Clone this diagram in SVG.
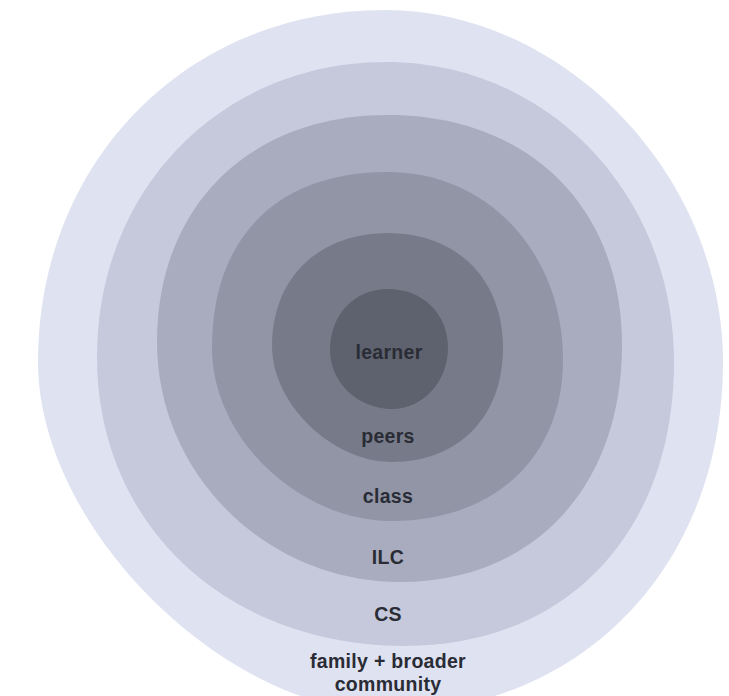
<svg xmlns="http://www.w3.org/2000/svg" width="729" height="696" viewBox="0 0 729 696">
  <style>
    .lbl { font-family: "Liberation Sans", Arial, sans-serif; font-weight: 700; font-size: 19.5px; letter-spacing: 0.3px; fill: #2a2c35; text-anchor: middle; }
    .r0 { fill: #dfe2f1; }
    .r1 { fill: #c5c9db; }
    .r2 { fill: #a8acbe; }
    .r3 { fill: #9195a6; }
    .r4 { fill: #777b89; }
    .r5 { fill: #5e626e; }
  </style>
  <rect width="729" height="696" fill="#ffffff"/>
  <g id="ring-family-community">
    <path class="r0" d="M385 10 C564.1 10 723 175.4 723 362 C723 565 582.3 712 388 712 C223.5 712 38 526.5 38 362 C38 161.4 187.2 10 385 10 Z"/>
    <text class="lbl" x="388" y="668">family + broader</text>
    <text class="lbl" x="388" y="691">community</text>
  </g>
  <g id="ring-cs">
    <path class="r1" d="M386 62 C547.3 62 674 194 674 362 C674 532.4 566.4 646 405 646 C226.4 646 97 524.6 97 357 C97 188.9 221.3 62 386 62 Z"/>
    <text class="lbl" x="388" y="621">CS</text>
  </g>
  <g id="ring-ilc">
    <path class="r2" d="M388 115 C528.4 115 622 207 622 345 C622 487.2 533.2 582 400 582 C266.4 582 157 474 157 342 C157 205.8 249.4 115 388 115 Z"/>
    <text class="lbl" x="388" y="564">ILC</text>
  </g>
  <g id="ring-class">
    <path class="r3" d="M388 172 C487.8 172 563 252.8 563 360 C563 456.6 494.6 521 392 521 C298.4 521 212 438 212 348 C212 237.1 277.1 172 388 172 Z"/>
    <text class="lbl" x="388" y="503">class</text>
  </g>
  <g id="ring-peers">
    <path class="r4" d="M388 233 C457 233 503 279 503 348 C503 416.4 458.6 462 392 462 C332 462 272 404 272 346 C272 278.2 318.4 233 388 233 Z"/>
    <text class="lbl" x="388" y="443">peers</text>
  </g>
  <g id="ring-learner">
    <path class="r5" d="M388 289 C422.8 289 448 313.8 448 348 C448 381.6 422.8 409 392 409 C357.9 409 330 382.5 330 350 C330 314.6 354.4 289 388 289 Z"/>
    <text class="lbl" x="389" y="359">learner</text>
  </g>
  <g id="connectors"/>
</svg>
